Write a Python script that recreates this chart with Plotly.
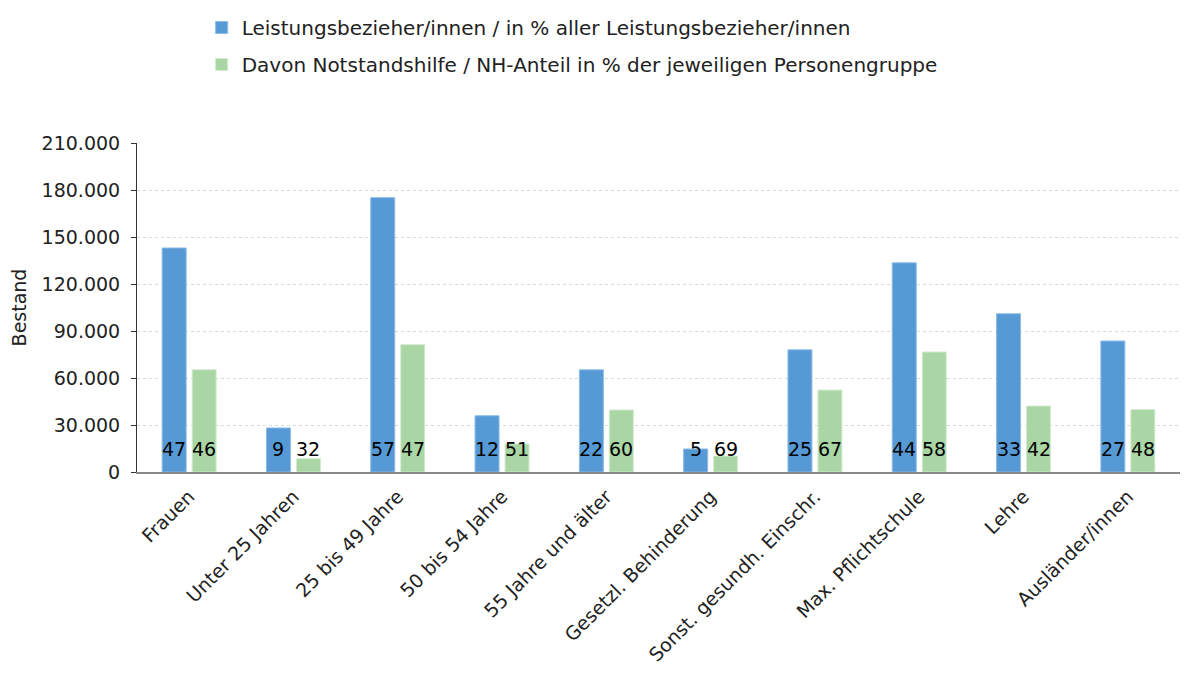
import plotly.graph_objects as go

categories = ["Frauen", "Unter 25 Jahren", "25 bis 49 Jahre", "50 bis 54 Jahre",
              "55 Jahre und älter", "Gesetzl. Behinderung", "Sonst. gesundh. Einschr.",
              "Max. Pflichtschule", "Lehre", "Ausländer/innen"]
bezieher = [143000, 28100, 175100, 35900, 65200, 14700, 78000, 133500, 101000, 83600]
notstand = [65300, 8500, 81300, 17900, 39600, 10200, 52300, 76600, 42100, 39800]
bezieher_pct = [47, 9, 57, 12, 22, 5, 25, 44, 33, 27]
notstand_pct = [46, 32, 47, 51, 60, 69, 67, 58, 42, 48]

FONT = "DejaVu Sans"

fig = go.Figure()
fig.add_trace(go.Bar(
    x=categories, y=bezieher, name="Leistungsbezieher/innen / in % aller Leistungsbezieher/innen",
    marker=dict(color="#5599D5", line=dict(color="#8DBBE6", width=1)),
    legendgroup="a",
))
fig.add_trace(go.Bar(
    x=categories, y=notstand, name="Davon Notstandshilfe / NH-Anteil in % der jeweiligen Personengruppe",
    marker=dict(color="#A9D6A4", line=dict(color="#D2EBCF", width=1)),
    legendgroup="b",
))

# percentage labels at the foot of each bar
for cat, pb, pn in zip(categories, bezieher_pct, notstand_pct):
    for val, shift in ((pb, -15), (pn, 15)):
        fig.add_annotation(x=cat, y=0, text=str(val), showarrow=False,
                           xanchor="center", yanchor="bottom", xshift=shift, yshift=10,
                           font=dict(size=19, color="black", family=FONT))

fig.update_layout(
    width=1184, height=667,
    barmode="group", bargap=0.425, bargroupgap=0.2,
    plot_bgcolor="white", paper_bgcolor="white",
    separators=",.",
    font=dict(family=FONT, size=18, color="#222"),
    margin=dict(l=129, r=12, t=135, b=203),
    showlegend=True,
    legend=dict(x=0.062, xanchor="left", y=1.02, yref="container", yanchor="top",
                orientation="v", font=dict(size=20, family=FONT),
                itemwidth=30, tracegroupgap=8),
)
fig.update_yaxes(
    range=[0, 210000], dtick=30000, tickformat=",d",
    showgrid=True, gridcolor="#D9D9D9", griddash="dot",
    showline=True, linecolor="#333", ticks="outside", tickcolor="#333", ticklen=5,
    ticklabelstandoff=7, tickfont=dict(size=19),
    title=dict(text="Bestand", font=dict(size=19)),
    zeroline=False, automargin=False,
)
fig.update_xaxes(
    tickangle=-45, showline=True, linecolor="#888", linewidth=2,
    tickfont=dict(size=19), ticklabelstandoff=4, automargin=False,
)

fig.write_html("out.html")
